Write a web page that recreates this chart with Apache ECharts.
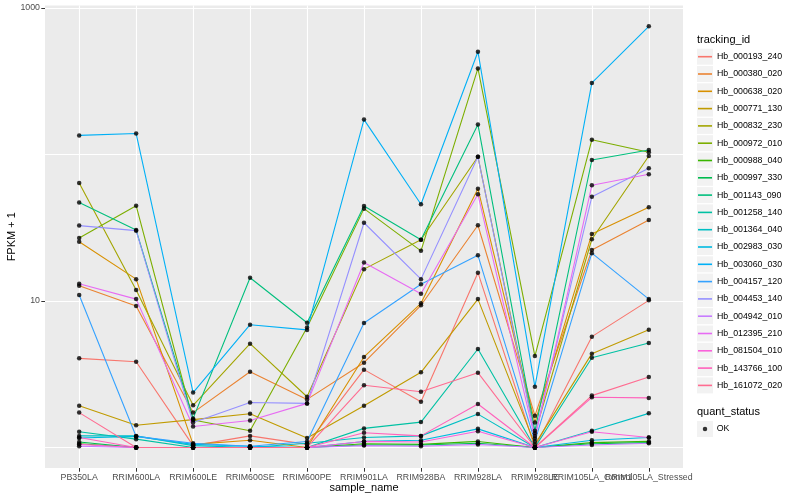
<!DOCTYPE html>
<html><head><meta charset="utf-8">
<script src="https://cdn.jsdelivr.net/npm/echarts@6/dist/echarts.min.js"></script>
<style>html,body{margin:0;padding:0;background:#fff}#chart{width:800px;height:500px}</style>
</head><body><div id="chart"></div>
<script>
const categories = ['PB350LA','RRIM600LA','RRIM600LE','RRIM600SE','RRIM600PE','RRIM901LA','RRIM928BA','RRIM928LA','RRIM928LE','RRIM105LA_Control','RRIM105LA_Stressed'];
const trackingIds = ['Hb_000193_240','Hb_000380_020','Hb_000638_020','Hb_000771_130','Hb_000832_230','Hb_000972_010','Hb_000988_040','Hb_000997_330','Hb_001143_090','Hb_001258_140','Hb_001364_040','Hb_002983_030','Hb_003060_030','Hb_004157_120','Hb_004453_140','Hb_004942_010','Hb_012395_210','Hb_081504_010','Hb_143766_100','Hb_161072_020'];
const quantStatus = ['OK'];
const yTickLabels = [10, 1000];
const yGridValues = [1, 10, 100, 1000];

// FPKM + 1 per tracking id, in category order
const Hb_000193_240 = [4.06, 3.85, 1.03, 1.20, 1.05, 3.40, 2.05, 15.6, 1.0, 5.71, 10.1];
const Hb_000380_020 = [12.7, 9.25, 1.73, 3.29, 2.13, 3.79, 9.35, 32.9, 1.65, 22.3, 35.7];
const Hb_000638_020 = [25.4, 14.1, 1.05, 1.12, 1.0, 4.15, 9.64, 58.4, 1.48, 28.7, 43.6];
const Hb_000771_130 = [1.93, 1.42, 1.55, 1.70, 1.16, 1.93, 3.26, 10.3, 1.05, 4.37, 6.37];
const Hb_000832_230 = [64.0, 11.9, 1.94, 5.11, 2.22, 16.5, 26.2, 96.6, 1.25, 26.4, 97.7];
const Hb_000972_010 = [26.9, 44.7, 1.54, 1.30, 6.6, 42.7, 22.0, 387, 4.21, 126, 103.5];
const Hb_000988_040 = [1.06, 1.0, 1.0, 1.0, 1.0, 1.06, 1.05, 1.10, 1.0, 1.08, 1.10];
const Hb_000997_330 = [1.09, 1.0, 1.0, 1.0, 1.0, 1.04, 1.04, 1.07, 1.0, 1.06, 1.08];
const Hb_001143_090 = [47.0, 30.5, 1.58, 14.4, 7.1, 44.5, 26.2, 160, 1.3, 91.7, 107.4];
const Hb_001258_140 = [1.28, 1.14, 1.0, 1.0, 1.0, 1.35, 1.49, 4.70, 1.0, 4.10, 5.17];
const Hb_001364_040 = [1.20, 1.20, 1.03, 1.0, 1.07, 1.17, 1.20, 1.69, 1.0, 1.30, 1.71];
const Hb_002983_030 = [1.16, 1.19, 1.05, 1.02, 1.0, 1.10, 1.12, 1.34, 1.0, 1.12, 1.17];
const Hb_003060_030 = [135, 139, 2.37, 6.89, 6.35, 173, 45.7, 503, 2.6, 308, 750];
const Hb_004157_120 = [11.0, 1.19, 1.07, 1.02, 1.10, 7.08, 13.0, 20.5, 1.10, 21.2, 10.3];
const Hb_004453_140 = [32.7, 30.2, 1.48, 2.03, 2.0, 34.2, 14.1, 96.6, 1.2, 51.5, 80.5];
const Hb_004942_010 = [1.02, 1.0, 1.0, 1.0, 1.0, 1.03, 1.02, 1.05, 1.0, 1.04, 1.07];
const Hb_012395_210 = [13.1, 10.3, 1.39, 1.53, 2.0, 18.3, 11.2, 53.5, 1.15, 61.6, 73.3];
const Hb_081504_010 = [1.05, 1.0, 1.0, 1.0, 1.0, 1.10, 1.09, 1.29, 1.0, 1.28, 1.17];
const Hb_143766_100 = [1.17, 1.0, 1.0, 1.0, 1.0, 1.26, 1.20, 1.98, 1.0, 2.20, 2.18];
const Hb_161072_020 = [1.73, 1.0, 1.0, 1.0, 1.0, 2.66, 2.40, 3.24, 1.0, 2.26, 3.03];

const fpkmValues = [Hb_000193_240, Hb_000380_020, Hb_000638_020, Hb_000771_130, Hb_000832_230, Hb_000972_010, Hb_000988_040, Hb_000997_330, Hb_001143_090, Hb_001258_140, Hb_001364_040, Hb_002983_030, Hb_003060_030, Hb_004157_120, Hb_004453_140, Hb_004942_010, Hb_012395_210, Hb_081504_010, Hb_143766_100, Hb_161072_020];

const palette = ['#F8766D','#EA8331','#D89000','#C09B00','#A3A500','#7CAE00','#39B600','#00BB4E','#00BF7D','#00C1A3','#00BFC4','#00BAE0','#00B0F6','#35A2FF','#9590FF','#C77CFF','#E76BF3','#FA62DB','#FF62BC','#FF6C91'];

const FONT = '"Liberation Sans", Arial, Helvetica, sans-serif';
const Y_MIN = 0.7244, Y_MAX = 1040;
const LEG_TOP = 48.05, LEG_STEP = 17.3;

const chart = echarts.init(document.getElementById('chart'), null, {renderer: 'canvas'});

const lineSeries = trackingIds.map((id, k) => ({
  name: id, type: 'line', xAxisIndex: 0, yAxisIndex: 0,
  data: fpkmValues[k].map((v, i) => [i, v]),
  symbol: 'none', silent: true, z: 2,
  lineStyle: {width: 1.1, color: palette[k]},
  itemStyle: {color: palette[k]},
  emphasis: {disabled: true}
}));

const pointSeries = {
  name: quantStatus[0], type: 'scatter', xAxisIndex: 0, yAxisIndex: 0,
  data: fpkmValues.flatMap(vals => vals.map((v, i) => [i, v])),
  symbol: 'circle', symbolSize: 4.5, silent: true, z: 3,
  itemStyle: {color: '#000'}
};

const keyBoxes = [];
for (let k = 0; k < trackingIds.length; k++) {
  keyBoxes.push({type: 'rect', left: 697, top: LEG_TOP + 8.65 + k * LEG_STEP - 8, shape: {width: 16, height: 16}, style: {fill: '#f2f2f2'}, silent: true, z: -1});
}
keyBoxes.push({type: 'rect', left: 697, top: 429 - 8, shape: {width: 16, height: 16}, style: {fill: '#f2f2f2'}, silent: true, z: -1});

const catIdx = categories.map((c, i) => i);
// labels split over two overlaid axes so that overlapping neighbours are both drawn, as in the reference
const labelIdxA = catIdx.filter(i => i !== 9);
const labelIdxB = [9];

const xLabelStyle = {fontSize: 8.8, color: '#4d4d4d', margin: 5.5, fontFamily: FONT, showMinLabel: true, showMaxLabel: true, hideOverlap: false, formatter: v => categories[Math.round(v)]};
const yLogMin = Math.log10(Y_MIN), yLogMax = Math.log10(Y_MAX);

chart.setOption({
  animation: false,
  backgroundColor: '#ffffff',
  textStyle: {fontFamily: FONT},
  grid: {left: 45, right: 117, top: 5.5, bottom: 32, containLabel: false, outerBoundsMode: 'none', show: true, backgroundColor: '#ebebeb', borderWidth: 0},
  xAxis: [{
    type: 'value', min: -0.6, max: 10.6, position: 'bottom',
    axisLine: {show: false, onZero: false},
    axisTick: {show: true, customValues: catIdx, length: 3.7, lineStyle: {color: '#333333', width: 1}},
    axisLabel: Object.assign({customValues: labelIdxA}, xLabelStyle),
    splitLine: {show: true, lineStyle: {color: '#ffffff', width: 1.1}},
    name: 'sample_name', nameLocation: 'middle', nameGap: 14.5, nameMoveOverlap: false,
    nameTextStyle: {fontSize: 11, color: '#000', fontFamily: FONT}
  }, {
    type: 'value', min: -0.6, max: 10.6, position: 'bottom',
    axisLine: {show: false, onZero: false},
    axisTick: {show: false},
    axisLabel: Object.assign({customValues: labelIdxB}, xLabelStyle),
    splitLine: {show: false}
  }],
  yAxis: [{
    type: 'log', logBase: 10, min: Y_MIN, max: Y_MAX, position: 'left',
    axisLine: {show: false, onZero: false}, axisTick: {show: false}, axisLabel: {show: false},
    splitLine: {show: false}
  }, {
    type: 'value', position: 'left', min: yLogMin, max: yLogMax,
    axisLine: {show: false, onZero: false},
    axisTick: {show: false, customValues: yGridValues.map(v => Math.log10(v))},
    axisLabel: {show: false},
    splitLine: {show: true, lineStyle: {color: '#ffffff', width: 1.1}}
  }, {
    type: 'value', position: 'left', min: yLogMin, max: yLogMax,
    axisLine: {show: false, onZero: false},
    axisTick: {show: true, customValues: yTickLabels.map(v => Math.log10(v)), length: 3.7, lineStyle: {color: '#333333', width: 1}},
    axisLabel: {customValues: yTickLabels.map(v => Math.log10(v)), formatter: v => String(Math.round(Math.pow(10, v))), fontSize: 8.8, color: '#4d4d4d', margin: 5, fontFamily: FONT, showMinLabel: true, showMaxLabel: true},
    splitLine: {show: false},
    name: 'FPKM + 1', nameLocation: 'middle', nameGap: 27.5, nameRotate: 90, nameMoveOverlap: false,
    nameTextStyle: {fontSize: 11, color: '#000', fontFamily: FONT}
  }],
  legend: [{
    data: trackingIds, orient: 'vertical', left: 698, top: LEG_TOP, padding: 0, itemGap: 0,
    itemWidth: 14, itemHeight: 1.6, icon: 'rect', selectedMode: false,
    textStyle: {fontSize: 8.8, color: '#000', fontFamily: FONT, lineHeight: LEG_STEP}
  }, {
    data: quantStatus, orient: 'vertical', left: 702.75, top: 429 - LEG_STEP / 2, padding: 0, itemGap: 0,
    itemWidth: 4.5, itemHeight: 4.5, icon: 'circle', selectedMode: false,
    textStyle: {fontSize: 8.8, color: '#000', fontFamily: FONT, lineHeight: LEG_STEP, padding: [0, 0, 0, 4.5]}
  }],
  graphic: keyBoxes.concat([
    {type: 'text', left: 697, top: 34, style: {text: 'tracking_id', fontSize: 11, fill: '#000', fontFamily: FONT}, silent: true},
    {type: 'text', left: 697, top: 406, style: {text: 'quant_status', fontSize: 11, fill: '#000', fontFamily: FONT}, silent: true}
  ]),
  series: lineSeries.concat([pointSeries])
});
</script></body></html>
